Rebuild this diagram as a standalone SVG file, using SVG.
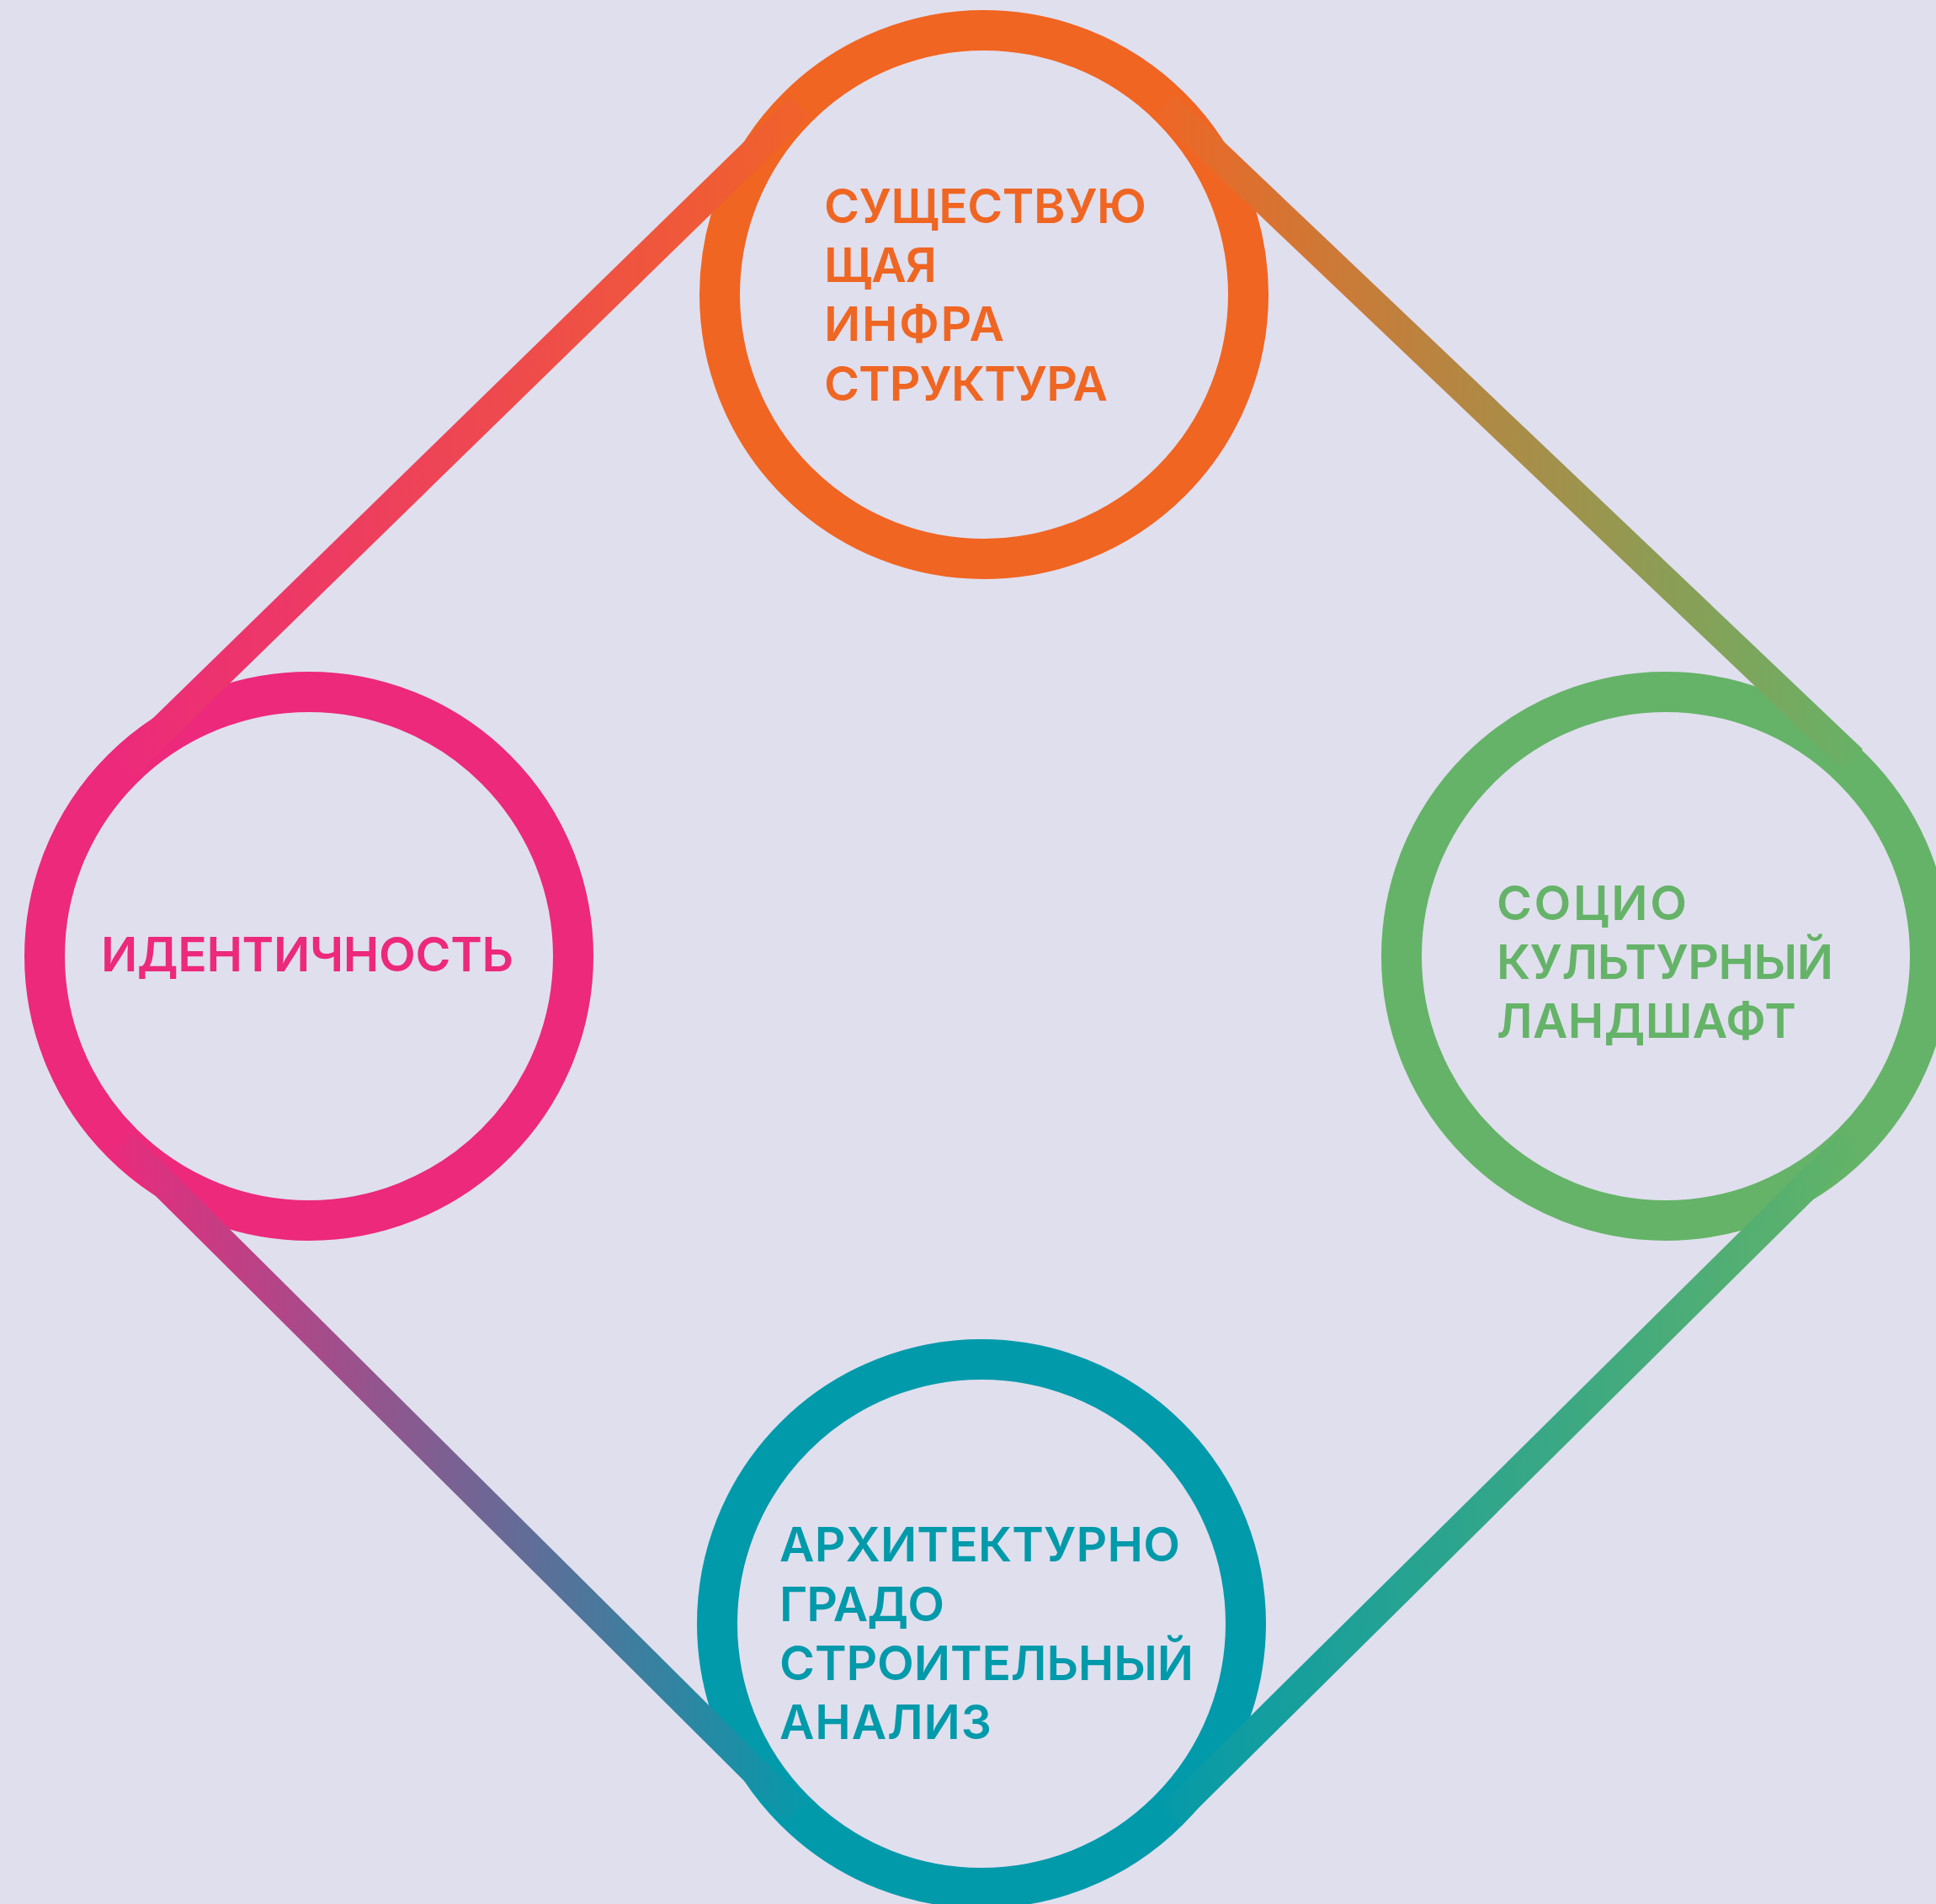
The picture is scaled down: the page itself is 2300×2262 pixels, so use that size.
<svg xmlns="http://www.w3.org/2000/svg" width="2300" height="2262" viewBox="0 0 2300 2262">
  <style>
    .ring { fill: none; stroke-width: 48; }
    .lbl { font-family: Inter, "Noto Sans", "Liberation Sans", sans-serif; font-size: 57px; font-weight: 600; }
  </style>
  <defs>
    <linearGradient id="gA" gradientUnits="userSpaceOnUse" x1="135" y1="0" x2="963" y2="0">
      <stop offset="0" stop-color="#EC2A7B"/>
      <stop offset="1" stop-color="#F0632A"/>
    </linearGradient>
    <linearGradient id="gB" gradientUnits="userSpaceOnUse" x1="1372" y1="0" x2="2213" y2="0">
      <stop offset="0" stop-color="#EF6626"/>
      <stop offset="1" stop-color="#66B267"/>
    </linearGradient>
    <linearGradient id="gC" gradientUnits="userSpaceOnUse" x1="1379" y1="0" x2="2210" y2="0">
      <stop offset="0" stop-color="#059AA9"/>
      <stop offset="1" stop-color="#63B367"/>
    </linearGradient>
    <linearGradient id="gD" gradientUnits="userSpaceOnUse" x1="134" y1="0" x2="957" y2="0">
      <stop offset="0" stop-color="#E92B7C"/>
      <stop offset="1" stop-color="#0699AA"/>
    </linearGradient>
  </defs>
  <rect x="0" y="0" width="2300" height="2262" fill="#E0DFEE"/>

  <g id="node-infrastructure">
    <circle class="ring" cx="1169" cy="350" r="314" stroke="#F06522"/>
    <g class="lbl" fill="#EF6623">
      <text x="979" y="265" textLength="383" lengthAdjust="spacing">СУЩЕСТВУЮ</text>
      <text x="979" y="335" textLength="134" lengthAdjust="spacing">ЩАЯ</text>
      <text x="979" y="405" textLength="214" lengthAdjust="spacing">ИНФРА</text>
      <text x="979" y="476" textLength="337" lengthAdjust="spacing">СТРУКТУРА</text>
    </g>
  </g>

  <g id="node-identity">
    <circle class="ring" cx="367" cy="1136" r="314" stroke="#EC297B"/>
    <text class="lbl" fill="#EC297B" x="120" y="1154" textLength="490" lengthAdjust="spacing">ИДЕНТИЧНОСТЬ</text>
  </g>

  <g id="node-sociocultural">
    <circle class="ring" cx="1979" cy="1136" r="314" stroke="#65B368"/>
    <g class="lbl" fill="#65B368">
      <text x="1778" y="1093" textLength="226" lengthAdjust="spacing">СОЦИО</text>
      <text x="1778" y="1163" textLength="400" lengthAdjust="spacing">КУЛЬТУРНЫЙ</text>
      <text x="1778" y="1233" textLength="356" lengthAdjust="spacing">ЛАНДШАФТ</text>
    </g>
  </g>

  <g id="node-architecture">
    <circle class="ring" cx="1166" cy="1929" r="314" stroke="#019AAA"/>
    <g class="lbl" fill="#019AAA">
      <text x="926" y="1855" textLength="476" lengthAdjust="spacing">АРХИТЕКТУРНО</text>
      <text x="926" y="1926" textLength="196" lengthAdjust="spacing">ГРАДО</text>
      <text x="926" y="1996" textLength="492" lengthAdjust="spacing">СТРОИТЕЛЬНЫЙ</text>
      <text x="926" y="2066" textLength="252" lengthAdjust="spacing">АНАЛИЗ</text>
    </g>
  </g>

  <g id="connectors">
    <polygon fill="url(#gA)" points="939.2,114.4 963.0,138.8 159.1,922.9 135.3,898.5"/>
    <polygon fill="url(#gB)" points="1395.1,112.3 1371.7,136.9 2189.5,914.6 2212.9,890.0"/>
    <polygon fill="url(#gC)" points="2210.2,1369.5 2186.2,1345.3 1379.1,2144.3 1403.1,2168.5"/>
    <polygon fill="url(#gD)" points="134.1,1370.4 158.1,1346.2 956.6,2139.7 932.6,2163.9"/>
  </g>
</svg>
